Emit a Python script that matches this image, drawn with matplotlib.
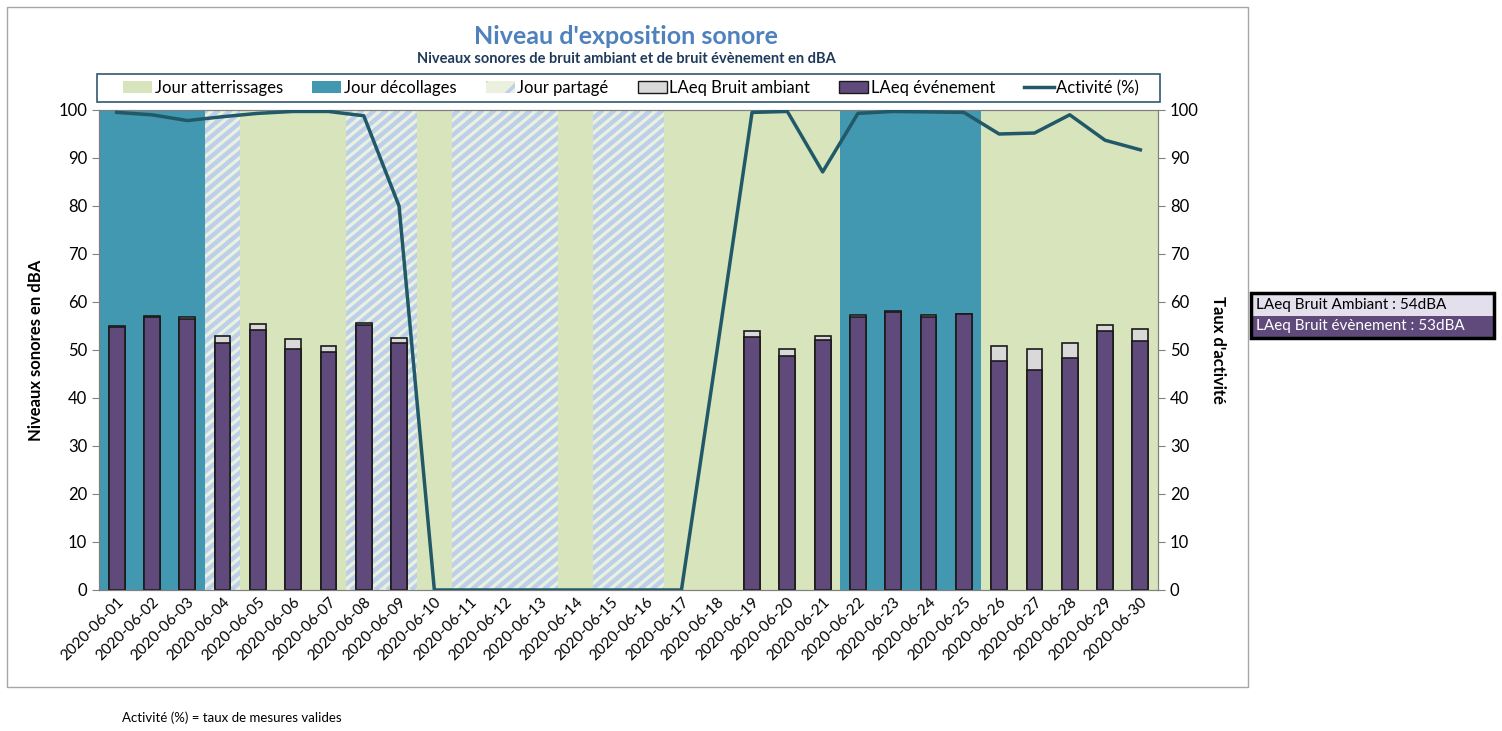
import numpy as np
import matplotlib
matplotlib.use("Agg")
import matplotlib.pyplot as plt
from matplotlib.patches import Patch, Rectangle
from matplotlib.lines import Line2D
from matplotlib.collections import LineCollection
from matplotlib.transforms import IdentityTransform

plt.rcParams["font.family"] = ["Lato", "DejaVu Sans"]

dates = [f"2020-06-{d:02d}" for d in range(1, 31)]
# L = atterrissages, D = decollages, P = partage
day_type = ["D", "D", "D", "P", "L", "L", "L", "P", "P", "L",
            "P", "P", "P", "L", "P", "P", "L", "L", "L", "L",
            "L", "D", "D", "D", "D", "L", "L", "L", "L", "L"]
ambiant = [55.0, 57.1, 56.9, 52.9, 55.4, 52.2, 50.8, 55.6, 52.6, None,
           None, None, None, None, None, None, None, None, 53.9, 50.2,
           52.9, 57.3, 58.1, 57.2, 57.6, 50.8, 50.3, 51.5, 55.3, 54.3]
evenement = [54.7, 56.8, 56.5, 51.4, 54.2, 50.3, 49.6, 55.2, 51.5, None,
             None, None, None, None, None, None, None, None, 52.8, 48.8,
             52.1, 56.9, 57.9, 56.9, 57.4, 47.8, 45.8, 48.3, 54.0, 51.8]
activite = [99.5, 99.0, 97.8, 98.6, 99.3, 99.7, 99.7, 98.8, 80.0, 0,
            0, 0, 0, 0, 0, 0, 0, 49.5, 99.5, 99.7,
            87.1, 99.3, 99.7, 99.6, 99.5, 95.0, 95.2, 99.0, 93.7, 91.7]
summary = ["LAeq Bruit Ambiant : 54dBA", "LAeq Bruit évènement : 53dBA"]

C_LAND = "#D8E4BC"
C_TAKE = "#4298B0"
C_SHARE_BG = "#EBF1DE"
C_SHARE_HATCH = "#BCD0EA"
C_AMB = "#D9D9D9"
C_EVT = "#604A7B"
C_LINE = "#215968"

W, H = 1502, 731
fig = plt.figure(figsize=(W / 100, H / 100), dpi=100)
# outer chart frame
fig.patches.append(Rectangle((7 / W, 1 - 687 / H), 1241 / W, 680 / H,
                             transform=fig.transFigure, fill=False,
                             edgecolor="#A6A6A6", lw=1))

AX_L, AX_R, AX_T, AX_B = 99, 1158, 110, 590
ax = fig.add_axes([AX_L / W, 1 - AX_B / H, (AX_R - AX_L) / W, (AX_B - AX_T) / H])
x = np.arange(len(dates))

# background day-type bands, contiguous runs merged
runs = []
start = 0
for i in range(1, len(day_type) + 1):
    if i == len(day_type) or day_type[i] != day_type[start]:
        runs.append((day_type[start], start, i - 1))
        start = i

# diagonal stripes in pixel space (clipped to each shared-day band)
segs = []
for c in range(-600, 1300, 12):
    x0 = AX_L + c
    segs.append([(x0, H - AX_B), (x0 + (AX_B - AX_T) * 1.2, H - AX_T)])

for t, a, b in runs:
    if t == "L":
        ax.axvspan(a - 0.5, b + 0.5, color=C_LAND, lw=0, zorder=0)
    elif t == "D":
        ax.axvspan(a - 0.5, b + 0.5, color=C_TAKE, lw=0, zorder=0)
    else:
        band = ax.axvspan(a - 0.5, b + 0.5, color=C_SHARE_BG, lw=0, zorder=0)
        lc = LineCollection(segs, colors=C_SHARE_HATCH, linewidths=3.2,
                            transform=IdentityTransform(), zorder=0.5)
        ax.add_collection(lc, autolim=False)
        lc.set_clip_path(band)

amb = np.array([np.nan if v is None else v for v in ambiant])
evt = np.array([np.nan if v is None else v for v in evenement])
ax.bar(x, amb, width=0.45, color=C_AMB, edgecolor="#1a1a1a", lw=1.2, zorder=2)
ax.bar(x, evt, width=0.45, color=C_EVT, edgecolor="#1a1a1a", lw=1.2, zorder=3)

ax.set_xlim(-0.5, len(dates) - 0.5)
ax.set_ylim(0, 100)
ax.set_yticks(range(0, 101, 10))
ax.set_xticks(x)
ax.set_xticklabels(dates, rotation=45, ha="right", rotation_mode="anchor", fontsize=11)
ax.tick_params(axis="y", labelsize=12, color="#808080", length=5)
ax.tick_params(axis="x", length=0)
ax.set_ylabel("Niveaux sonores en dBA", fontsize=12, fontweight="bold", labelpad=10)
for sp in ax.spines.values():
    sp.set_color("#808080")

ax2 = ax.twinx()
ax2.plot(x, activite, color=C_LINE, lw=2.5, zorder=5)
ax2.set_ylim(0, 100)
ax2.set_yticks(range(0, 101, 10))
ax2.tick_params(axis="y", labelsize=12, color="#808080", length=5)
ax2.set_ylabel("Taux d'activité", fontsize=12, fontweight="bold", rotation=270, labelpad=20)
for sp in ax2.spines.values():
    sp.set_color("#808080")

fig.text(626 / W, 1 - 36 / H, "Niveau d'exposition sonore", ha="center", va="center",
         fontsize=18, fontweight="bold", color="#4F81BD")
fig.text(626 / W, 1 - 59 / H, "Niveaux sonores de bruit ambiant et de bruit évènement en dBA",
         ha="center", va="center", fontsize=10.5, fontweight="bold", color="#1F3A5A")

# legend: frame drawn separately (wider than its content, as in the original)
fig.patches.append(Rectangle((97 / W, 1 - 102 / H), 1063 / W, 28 / H,
                             transform=fig.transFigure, facecolor="white",
                             edgecolor="#31596E", lw=1.2, zorder=0.5))
plt.rcParams["hatch.linewidth"] = 2.5
plt.rcParams["hatch.color"] = C_SHARE_HATCH
handles = [
    Patch(facecolor=C_LAND, edgecolor="none", label="Jour atterrissages"),
    Patch(facecolor=C_TAKE, edgecolor="none", label="Jour décollages"),
    Patch(facecolor=C_SHARE_BG, edgecolor=C_SHARE_HATCH, hatch="/", lw=0, label="Jour partagé"),
    Patch(facecolor=C_AMB, edgecolor="#1a1a1a", label="LAeq Bruit ambiant"),
    Patch(facecolor=C_EVT, edgecolor="#1a1a1a", label="LAeq événement"),
    Line2D([], [], color=C_LINE, lw=2.5, label="Activité (%)"),
]
leg = fig.legend(handles=handles, loc="center", ncol=6,
                 bbox_to_anchor=(631 / W, 1 - 88 / H), fontsize=12,
                 frameon=False, handlelength=1.75, handletextpad=0.15,
                 columnspacing=1.75, borderpad=0.2)

# summary box on the right
fig.patches.append(Rectangle((1251 / W, 1 - 338 / H), 243 / W, 45 / H,
                             transform=fig.transFigure, facecolor="none",
                             edgecolor="black", lw=2.5, zorder=5))
fig.patches.append(Rectangle((1252 / W, 1 - 316 / H), 241 / W, 22 / H,
                             transform=fig.transFigure, facecolor="#E4DFEC",
                             edgecolor="none", zorder=4))
fig.patches.append(Rectangle((1252 / W, 1 - 337 / H), 241 / W, 21 / H,
                             transform=fig.transFigure, facecolor=C_EVT,
                             edgecolor="none", zorder=4))
fig.text(1256 / W, 1 - 305 / H, summary[0], fontsize=11, va="center", color="black", zorder=6)
fig.text(1256 / W, 1 - 326 / H, summary[1], fontsize=11, va="center", color="white", zorder=6)

fig.text(122 / W, 1 - 718 / H, "Activité (%) = taux de mesures valides",
         fontsize=9.5, va="center")

fig.savefig("out.png", dpi=100)
